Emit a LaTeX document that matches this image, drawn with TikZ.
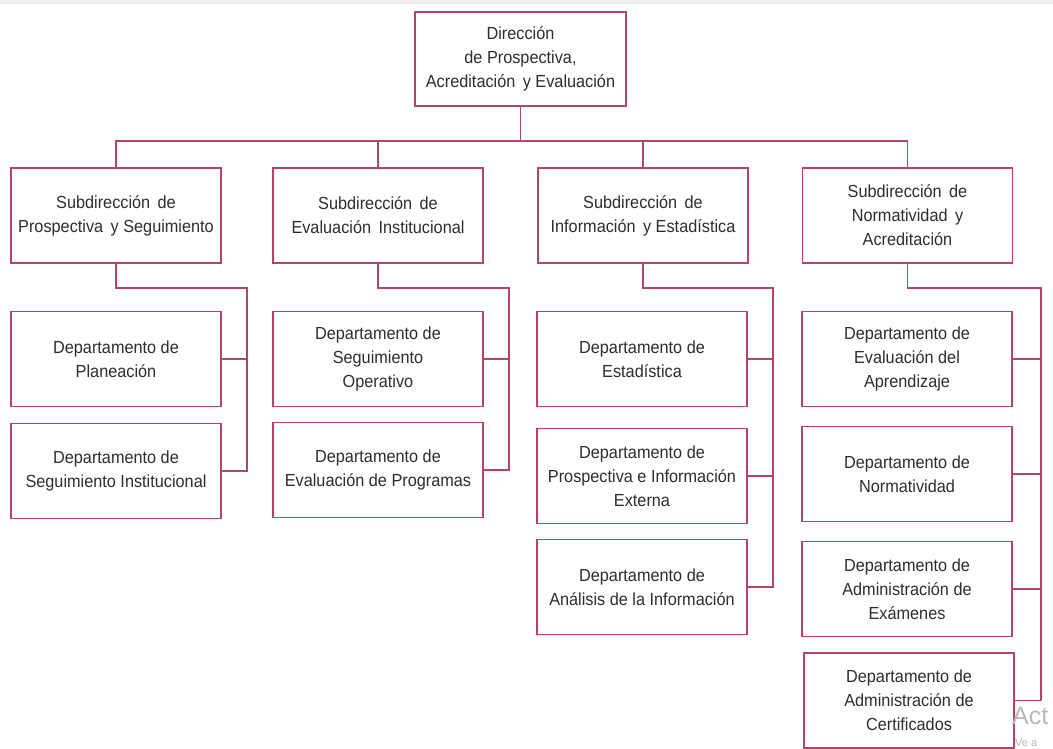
\documentclass[tikz,border=0pt]{standalone}
\usepackage{fontspec}
\setmainfont{Liberation Sans}[FakeStretch=0.93]
\newfontfamily\wmfont{Liberation Sans}
\definecolor{frame}{HTML}{B5446A}
\definecolor{txt}{HTML}{2E2E2E}
\begin{document}
\begin{tikzpicture}[x=1pt,y=-1pt,
  box/.style={draw=frame, line width=1.8pt, fill=white, text=txt, align=center,
    font=\fontsize{17.5}{24}\selectfont, inner sep=0pt, minimum width=210pt, minimum height=95pt},
  link/.style={draw=frame, line width=1.8pt},
  wmark/.style={text=black!28, inner sep=0pt, anchor=west}]
\useasboundingbox (0,0) rectangle (1053,749);
\fill[black!7] (0,0) rectangle (1053,4);

\node[box, minimum width=211pt, minimum height=94pt] (top) at (520.5,59) {Dirección\\de Prospectiva,\\Acreditación\, y Evaluación};

\node[box] (s1) at (116,215.5) {Subdirección\, de\\Prospectiva\, y Seguimiento};
\node[box] (s2) at (378,215.5) {Subdirección\, de\\Evaluación\, Institucional};
\node[box] (s3) at (643,215.5) {Subdirección\, de\\Información\, y Estadística};
\node[box] (s4) at (907.5,215.5) {Subdirección\, de\\Normatividad\, y\\Acreditación};

\node[box] (d11) at (116,359) {Departamento de\\Planeación};
\node[box] (d12) at (116,471) {Departamento de\\Seguimiento Institucional};
\node[box] (d21) at (378,359) {Departamento de\\Seguimiento\\Operativo};
\node[box] (d22) at (378,470) {Departamento de\\Evaluación de Programas};
\node[box] (d31) at (642,359) {Departamento de\\Estadística};
\node[box] (d32) at (642,476) {Departamento de\\Prospectiva e Información\\Externa};
\node[box] (d33) at (642,587) {Departamento de\\Análisis de la Información};
\node[box] (d41) at (907,359) {Departamento de\\Evaluación del\\Aprendizaje};
\node[box] (d42) at (907,474) {Departamento de\\Normatividad};
\node[box] (d43) at (907,589) {Departamento de\\Administración de\\Exámenes};
\node[box] (d44) at (909,700.5) {Departamento de\\Administración de\\Certificados};

% top bus
\coordinate (bus) at (520.5,141);
\draw[link] (top.south) -- (bus);
\draw[link] (s1.north) |- (bus) -| (s4.north);
\draw[link] (s2.north) -- (s2.north |- bus);
\draw[link] (s3.north) -- (s3.north |- bus);

% branch 1
\coordinate (r1) at (247,288);
\draw[link] (s1.south) |- (r1) |- (d12.east);
\draw[link] (d11.east) -- (d11.east -| r1);
% branch 2
\coordinate (r2) at (509,288);
\draw[link] (s2.south) |- (r2) |- (d22.east);
\draw[link] (d21.east) -- (d21.east -| r2);
% branch 3
\coordinate (r3) at (773,288);
\draw[link] (s3.south) |- (r3) |- (d33.east);
\draw[link] (d31.east) -- (d31.east -| r3);
\draw[link] (d32.east) -- (d32.east -| r3);
% branch 4
\coordinate (r4) at (1041,288);
\draw[link] (s4.south) |- (r4) |- (d44.east);
\draw[link] (d41.east) -- (d41.east -| r4);
\draw[link] (d42.east) -- (d42.east -| r4);
\draw[link] (d43.east) -- (d43.east -| r4);

% watermark remnants
\node[wmark, font=\wmfont\fontsize{25}{25}\selectfont] (wm1) at (1012,716) {Act};
\node[wmark, font=\wmfont\fontsize{11}{11}\selectfont] (wm2) at (1015,743) {Ve a};
\end{tikzpicture}
\end{document}
